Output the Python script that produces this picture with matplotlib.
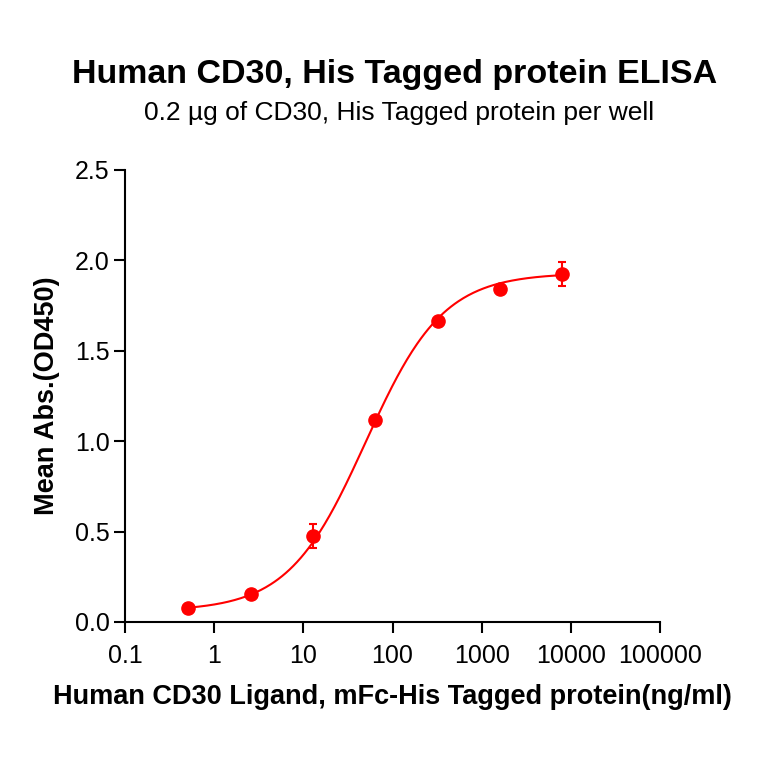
import matplotlib.pyplot as plt
import numpy as np

plt.rcParams["font.family"] = ["Liberation Sans", "DejaVu Sans"]

# measured points (ng/ml vs OD450)
conc = [0.512, 2.56, 12.8, 64, 320, 1600, 8000]
od450 = [0.08, 0.155, 0.475, 1.115, 1.662, 1.842, 1.925]
od_err = [0.0, 0.0, 0.066, 0.0, 0.0, 0.0, 0.067]

# 4PL fit parameters (bottom, top, EC50, hill)
fit_bottom = 0.06
fit_top = 1.93
fit_ec50 = 50.0
fit_hill = 1.0

x_ticks = [0.1, 1, 10, 100, 1000, 10000, 100000]
x_labels = ["0.1", "1", "10", "100", "1000", "10000", "100000"]
y_ticks = [0.0, 0.5, 1.0, 1.5, 2.0, 2.5]

red = "#ff0000"

fig = plt.figure(figsize=(7.64, 7.64), dpi=100)
ax = fig.add_axes([0.1636, 0.1859, 0.7003, 0.5916])

xs = np.logspace(np.log10(conc[0]), np.log10(conc[-1]), 300)
ys = fit_bottom + (fit_top - fit_bottom) / (1 + (fit_ec50 / xs) ** fit_hill)
ax.plot(xs, ys, color=red, lw=1.5)

ax.errorbar(conc, od450, yerr=od_err, fmt="o", color=red, ms=9.5,
            elinewidth=1.5, capsize=3, capthick=1.5)

ax.set_xscale("log")
ax.set_xlim(0.1, 100000)
ax.set_ylim(0, 2.5)
ax.set_xticks(x_ticks)
ax.set_xticklabels(x_labels)
ax.minorticks_off()
ax.set_yticks(y_ticks)
ax.set_yticklabels([f"{v:.1f}" for v in y_ticks])

for s in ["top", "right"]:
    ax.spines[s].set_visible(False)
for s in ["left", "bottom"]:
    ax.spines[s].set_linewidth(1.5)
ax.tick_params(width=1.5, length=8, labelsize=18)
ax.tick_params(axis="x", pad=8)
ax.tick_params(axis="y", pad=3)

ax.set_xlabel("Human CD30 Ligand, mFc-His Tagged protein(ng/ml)",
              fontsize=19.5, fontweight="bold", va="center")
ax.set_ylabel("Mean Abs.(OD450)", fontsize=19.5, fontweight="bold", va="center")
ax.xaxis.set_label_coords(0.5, -0.166)
ax.yaxis.set_label_coords(-0.146, 0.5)

fig.text(0.516, 0.902, "Human CD30, His Tagged protein ELISA", ha="center",
         va="center", fontsize=24.5, fontweight="bold")
fig.text(0.522, 0.852, "0.2 µg of CD30, His Tagged protein per well", ha="center",
         va="center", fontsize=19)

fig.savefig("out.png", dpi=100)
